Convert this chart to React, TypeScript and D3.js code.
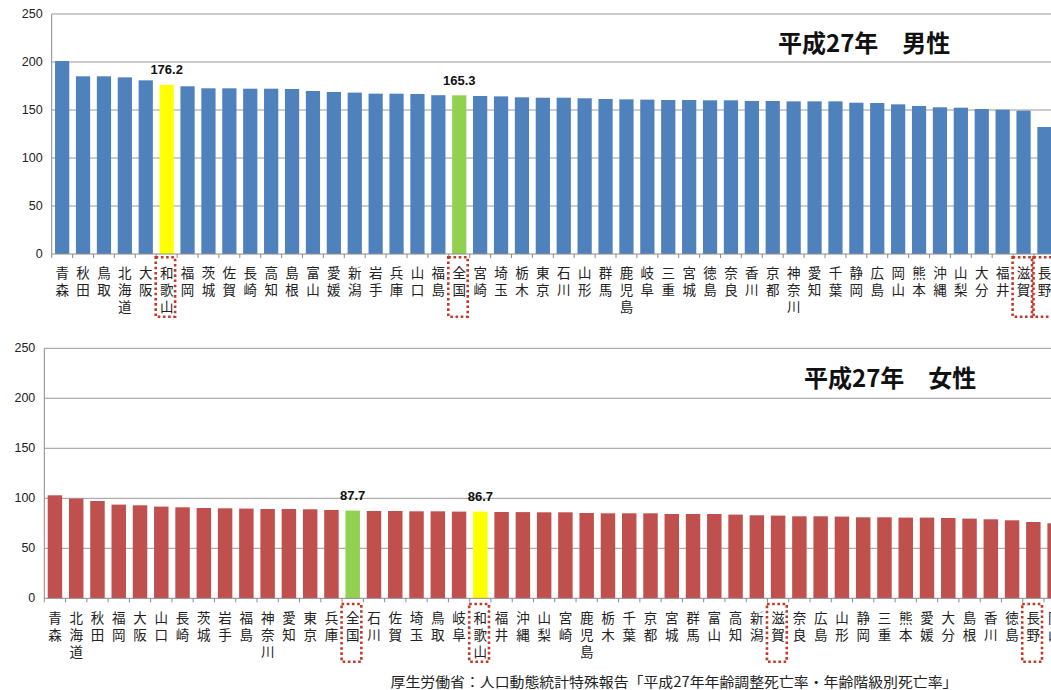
import React from "react";
import * as d3 from "d3";

const maleNames = ["青森","秋田","鳥取","北海道","大阪","和歌山","福岡","茨城","佐賀","長崎","高知","島根","富山","愛媛","新潟","岩手","兵庫","山口","福島","全国","宮崎","埼玉","栃木","東京","石川","山形","群馬","鹿児島","岐阜","三重","宮城","徳島","奈良","香川","京都","神奈川","愛知","千葉","静岡","広島","岡山","熊本","沖縄","山梨","大分","福井","滋賀","長野"];
const maleValues = [201.0,185.1,185.1,184.0,180.9,176.2,174.7,172.6,172.6,172.2,172.2,171.9,169.8,168.8,168.1,167.0,167.0,166.7,165.4,165.3,164.6,164.2,163.2,162.8,162.8,162.2,161.5,161.1,160.8,160.4,160.4,160.1,160.1,159.4,159.4,159.0,159.0,159.0,157.6,157.3,155.9,154.2,152.8,152.4,151.0,150.3,149.3,132.3];

const femaleNames = ["青森","北海道","秋田","福岡","大阪","山口","長崎","茨城","岩手","福島","神奈川","愛知","東京","兵庫","全国","石川","佐賀","埼玉","鳥取","岐阜","和歌山","福井","沖縄","山梨","宮崎","鹿児島","栃木","千葉","京都","宮城","群馬","富山","高知","新潟","滋賀","奈良","広島","山形","静岡","三重","熊本","愛媛","大分","島根","香川","徳島","長野","岡山"];
const femaleValues = [103.0,99.7,97.3,93.7,93.0,91.7,91.0,90.3,90.0,89.7,89.3,89.3,89.0,88.3,87.7,87.3,87.3,87.0,87.0,86.7,86.7,86.3,86.2,86.0,86.0,85.3,85.0,85.0,85.0,84.3,84.3,84.3,83.7,83.0,82.7,82.0,82.0,81.7,81.0,81.0,80.7,80.7,80.3,79.7,79.0,78.0,76.3,75.0];

const yTicks = [0, 50, 100, 150, 200, 250];
const valueLabelNames = ["和歌山", "全国"];
const boxedNames = ["和歌山", "全国", "滋賀", "長野"];
const footer = "厚生労働省：人口動態統計特殊報告「平成27年年齢調整死亡率・年齢階級別死亡率」";

const CJK = "'Noto Sans CJK JP', 'Noto Sans', sans-serif";
const NUM = "'Liberation Sans', Arial, sans-serif";

type PanelProps = {
  names: string[];
  values: number[];
  baseColor: string;
  left: number;
  step: number;
  yZero: number;
  yMax: number;
  title: string;
  titleX: number;
  titleY: number;
  labelY: number;
  boxTop: number;
  boxBottom: number;
};

function Panel(p: PanelProps) {
  const n = p.names.length;
  const x = d3
    .scaleBand<string>()
    .domain(p.names)
    .range([p.left, p.left + n * p.step])
    .paddingInner(0.32)
    .paddingOuter(0.16);
  const y = d3.scaleLinear().domain([0, 250]).range([p.yZero, p.yMax]);
  const right = p.left + n * p.step;
  const colorOf = (name: string) =>
    name === "和歌山" ? "#FFFF00" : name === "全国" ? "#92D050" : p.baseColor;
  return (
    <g>
      {yTicks.map((t) => (
        <g key={t}>
          {t > 0 && (
            <line x1={p.left} x2={right} y1={y(t)} y2={y(t)} stroke="#9a9a9a" strokeWidth={1} />
          )}
          <text
            x={p.left - 9}
            y={y(t)}
            textAnchor="end"
            dominantBaseline="central"
            fontFamily={NUM}
            fontSize={12.5}
            fill="#222"
          >
            {t}
          </text>
        </g>
      ))}
      <line x1={p.left} x2={p.left} y1={y(250)} y2={y(0)} stroke="#8a8a8a" strokeWidth={1} />
      {p.names.map((name, i) => (
        <rect
          key={"b" + i}
          x={x(name)!}
          y={y(p.values[i])}
          width={x.bandwidth()}
          height={y(0) - y(p.values[i])}
          fill={colorOf(name)}
        />
      ))}
      <line x1={p.left} x2={right} y1={y(0)} y2={y(0)} stroke="#8a8a8a" strokeWidth={1} />
      {d3.range(n + 1).map((i) => (
        <line
          key={"t" + i}
          x1={p.left + i * p.step}
          x2={p.left + i * p.step}
          y1={y(0)}
          y2={y(0) + 4}
          stroke="#8a8a8a"
          strokeWidth={1}
        />
      ))}
      {p.names.map((name, i) => {
        const cx = x(name)! + x.bandwidth() / 2;
        return (
          <g key={"l" + i}>
            {Array.from(name).map((ch, j) => (
              <text
                key={j}
                x={cx}
                y={p.labelY + j * 17}
                textAnchor="middle"
                dominantBaseline="central"
                fontFamily={CJK}
                fontSize={13.5}
                fill="#222"
              >
                {ch}
              </text>
            ))}
          </g>
        );
      })}
      {p.names.map((name, i) =>
        valueLabelNames.includes(name) ? (
          <text
            key={"v" + i}
            x={x(name)! + x.bandwidth() / 2}
            y={y(p.values[i]) - 15}
            textAnchor="middle"
            dominantBaseline="central"
            fontFamily={NUM}
            fontWeight="bold"
            fontSize={13}
            fill="#111"
          >
            {p.values[i].toFixed(1)}
          </text>
        ) : null
      )}
      {p.names.map((name, i) =>
        boxedNames.includes(name) ? (
          <rect
            key={"r" + i}
            x={p.left + i * p.step - 0.5}
            y={p.boxTop}
            width={p.step - 1.5}
            height={p.boxBottom - p.boxTop}
            fill="none"
            stroke="#C0392B"
            strokeWidth={2.6}
            strokeDasharray="2.6 2.6"
          />
        ) : null
      )}
      <text
        x={p.titleX}
        y={p.titleY}
        dominantBaseline="central"
        fontFamily={CJK}
        fontWeight="bold"
        fontSize={24}
        fill="#111"
      >
        {p.title}
      </text>
    </g>
  );
}

export default function App() {
  return (
    <svg
      width={1051}
      height={690}
      style={{ position: "absolute", left: 0, top: 0, background: "#fff" }}
    >
      <rect x={0} y={0} width={1051} height={690} fill="#fff" />
      <Panel
        names={maleNames}
        values={maleValues}
        baseColor="#4F81BD"
        left={51.7}
        step={20.9}
        yZero={254}
        yMax={14}
        title="平成27年　男性"
        titleX={778}
        titleY={41.7}
        labelY={272.3}
        boxTop={257.3}
        boxBottom={316.7}
      />
      <Panel
        names={femaleNames}
        values={femaleValues}
        baseColor="#C0504D"
        left={44.3}
        step={21.27}
        yZero={598.3}
        yMax={348.3}
        title="平成27年　女性"
        titleX={804}
        titleY={376.7}
        labelY={616.7}
        boxTop={604}
        boxBottom={661.7}
      />
      <text
        x={390.5}
        y={680.5}
        dominantBaseline="central"
        fontFamily={CJK}
        fontSize={14}
        textLength={567}
        lengthAdjust="spacingAndGlyphs"
        fill="#222"
      >
        {footer}
      </text>
    </svg>
  );
}
